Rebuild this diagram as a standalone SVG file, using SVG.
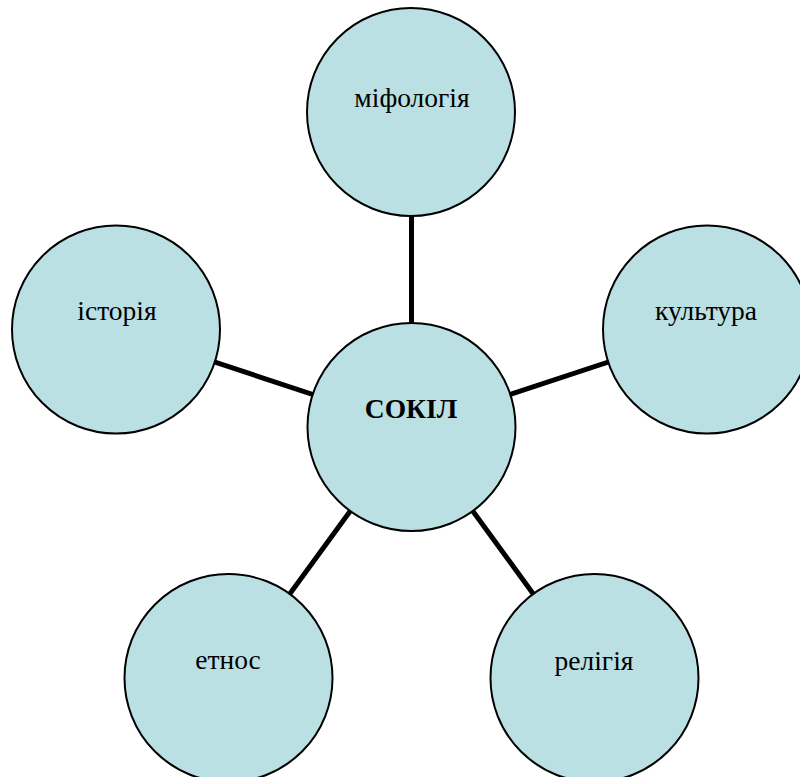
<svg xmlns="http://www.w3.org/2000/svg" width="800" height="777" viewBox="0 0 800 777">
<style>
.node{fill:#BBE0E3;stroke:#000;stroke-width:2}
.lbl{font-family:"Liberation Serif","Times New Roman",serif;font-size:27.5px;fill:#000;text-anchor:middle}
.ttl{font-weight:bold}
.conn{stroke:#000;stroke-width:5;fill:none}
</style>
<rect width="800" height="777" fill="#fff"/>
<g id="connectors">
<line class="conn" x1="411.5" y1="427" x2="411.5" y2="112"/>
<line class="conn" x1="411.5" y1="427" x2="116" y2="329.5"/>
<line class="conn" x1="411.5" y1="427" x2="707" y2="329.5"/>
<line class="conn" x1="411.5" y1="427" x2="228.5" y2="678"/>
<line class="conn" x1="411.5" y1="427" x2="594.5" y2="678"/>
</g>
<g id="node-myth"><circle class="node" cx="411" cy="112" r="104"/><text class="lbl" x="412" y="107">міфологія</text></g>
<g id="node-history"><circle class="node" cx="116" cy="329.5" r="104"/><text class="lbl" x="117" y="320">історія</text></g>
<g id="node-culture"><circle class="node" cx="707" cy="329.5" r="104"/><text class="lbl" x="706" y="320">культура</text></g>
<g id="node-ethnos"><circle class="node" cx="228.5" cy="678" r="104"/><text class="lbl" x="228" y="669">етнос</text></g>
<g id="node-religion"><circle class="node" cx="594.5" cy="678" r="104"/><text class="lbl" x="594" y="670">релігія</text></g>
<g id="node-center"><circle class="node" cx="411.5" cy="427" r="104"/><text class="lbl ttl" x="411" y="418">СОКІЛ</text></g>
</svg>
